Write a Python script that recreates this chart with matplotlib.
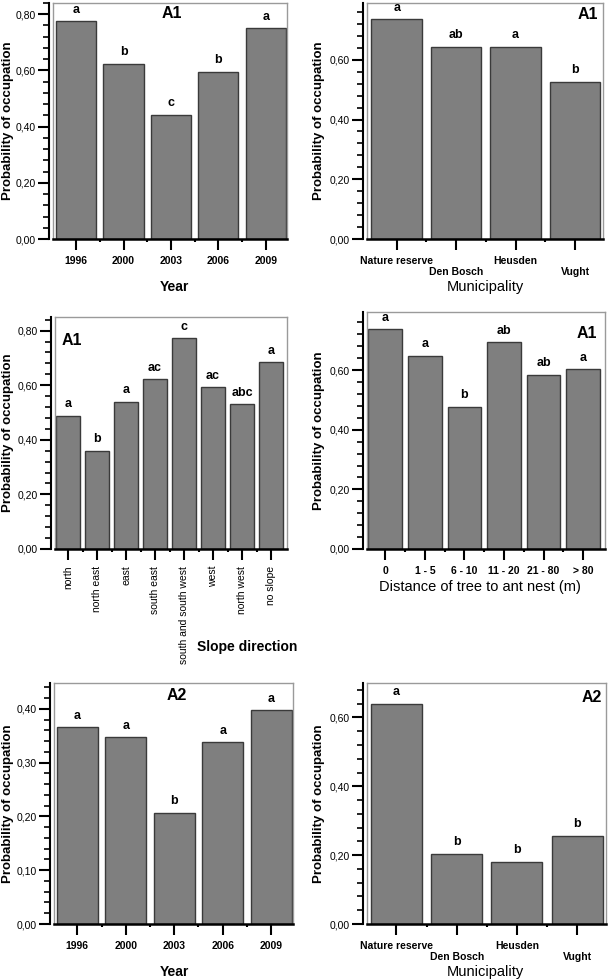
import matplotlib
matplotlib.use("Agg")
import matplotlib.pyplot as plt
from matplotlib.ticker import MultipleLocator, AutoMinorLocator, FuncFormatter

plt.rcParams["font.family"] = ["Liberation Sans", "DejaVu Sans"]

# --- data ---
YEARS = ["1996", "2000", "2003", "2006", "2009"]
YEAR_A1 = [0.775, 0.624, 0.443, 0.595, 0.750]
YEAR_A1_LET = ["a", "b", "c", "b", "a"]

MUNI = ["Nature reserve", "Den Bosch", "Heusden", "Vught"]
MUNI_A1 = [0.736, 0.644, 0.644, 0.527]
MUNI_A1_LET = ["a", "ab", "a", "b"]

SLOPE = ["north", "north east", "east", "south east", "south and south west",
         "west", "north west", "no slope"]
SLOPE_A1 = [0.489, 0.359, 0.539, 0.622, 0.772, 0.592, 0.530, 0.684]
SLOPE_A1_LET = ["a", "b", "a", "ac", "c", "ac", "abc", "a"]

DIST = ["0", "1 - 5", "6 - 10", "11 - 20", "21 - 80", "> 80"]
DIST_A1 = [0.737, 0.649, 0.478, 0.694, 0.585, 0.603]
DIST_A1_LET = ["a", "a", "b", "ab", "ab", "a"]

YEAR_A2 = [0.366, 0.347, 0.207, 0.338, 0.397]
YEAR_A2_LET = ["a", "a", "b", "a", "a"]

MUNI_A2 = [0.639, 0.204, 0.180, 0.257]
MUNI_A2_LET = ["a", "b", "b", "b"]

W, H = 610, 980
BAR = "#7f7f7f"
EDGE = "#3a3a3a"
FRAME = "#9a9a9a"

fig = plt.figure(figsize=(W / 100, H / 100), dpi=100)


def comma(v, pos):
    return f"{v:.2f}".replace(".", ",")


def panel(box, cats, vals, letters, ylim, major, tag, tag_xy, tag_ha,
          xlabel, xlabel_xy, xlabel_kw, ylabel_x, xlim, tick_kw, stagger=False):
    l, t, r, b = box
    ax = fig.add_axes([l / W, 1 - b / H, (r - l) / W, (b - t) / H])
    x = range(len(cats))
    ax.bar(x, vals, width=0.85, color=BAR, edgecolor=EDGE, linewidth=1.0, zorder=2)
    for i, (v, s) in enumerate(zip(vals, letters)):
        ax.annotate(s, (i, v), xytext=(0, 4), textcoords="offset points",
                    ha="center", va="bottom", fontsize=9, fontweight="bold")
    ax.set_xlim(*xlim)
    ax.set_ylim(0, ylim)
    ax.yaxis.set_major_locator(MultipleLocator(major))
    ax.yaxis.set_minor_locator(AutoMinorLocator(5))
    ax.yaxis.set_major_formatter(FuncFormatter(comma))
    ax.tick_params(axis="y", which="major", length=8, width=1.5, labelsize=7.5, pad=1.5)
    ax.tick_params(axis="y", which="minor", length=4, width=1.2)
    ax.set_xticks(list(x))
    labels = [("\n" + c) if (stagger and i % 2) else c for i, c in enumerate(cats)]
    ax.set_xticklabels(labels, **tick_kw)
    ax.set_xticks([i + 0.5 for i in range(len(cats) - 1)], minor=True)
    ax.tick_params(axis="x", which="major", length=8, width=1.5, pad=4)
    ax.tick_params(axis="x", which="minor", length=2, width=1.5)
    for side in ("top", "right"):
        ax.spines[side].set_color(FRAME)
        ax.spines[side].set_linewidth(1.0)
    ax.spines["left"].set_position(("outward", 3))
    ax.spines["left"].set_linewidth(1.5)
    ax.spines["bottom"].set_linewidth(1.8)
    ax.plot([0, 0], [0, 1], transform=ax.transAxes, color=FRAME, lw=1.0, clip_on=False)
    ax.text(tag_xy[0], tag_xy[1], tag, transform=ax.transAxes, ha=tag_ha, va="center",
            fontsize=11.5, fontweight="bold")
    fig.text(ylabel_x / W, 1 - (t + b) / 2 / H, "Probability of occupation", rotation=90,
             ha="center", va="center", fontsize=9.5, fontweight="bold")
    fig.text(xlabel_xy[0] / W, 1 - xlabel_xy[1] / H, xlabel, ha="center", va="center",
             **xlabel_kw)
    return ax


bold_ticks = dict(fontsize=7.5, fontweight="bold")
xl_bold = dict(fontsize=10, fontweight="bold")
xl_reg = dict(fontsize=10.5)

panel((53, 3, 287, 239), YEARS, YEAR_A1, YEAR_A1_LET, 0.84, 0.2, "A1", (0.51, 0.955), "center",
      "Year", (174, 287), xl_bold, 8, (-0.49, 4.45), bold_ticks)
panel((367, 3, 603, 239), MUNI, MUNI_A1, MUNI_A1_LET, 0.79, 0.2, "A1", (0.98, 0.95), "right",
      "Municipality", (485, 287), xl_reg, 319, (-0.5, 3.47), bold_ticks, stagger=True)
panel((55, 317, 287, 549), SLOPE, SLOPE_A1, SLOPE_A1_LET, 0.85, 0.2, "A1", (0.03, 0.90), "left",
      "Slope direction", (247, 647), xl_bold, 8, (-0.45, 7.55),
      dict(fontsize=7.5, rotation=90))
panel((367, 312, 605, 549), DIST, DIST_A1, DIST_A1_LET, 0.795, 0.2, "A1", (0.965, 0.91), "right",
      "Distance of tree to ant nest (m)", (480, 587), xl_reg, 319, (-0.46, 5.55), bold_ticks)
panel((54, 683, 293, 924), YEARS, YEAR_A2, YEAR_A2_LET, 0.448, 0.1, "A2", (0.515, 0.95), "center",
      "Year", (174, 972), xl_bold, 8, (-0.48, 4.45), bold_ticks)
panel((367, 683, 606, 924), MUNI, MUNI_A2, MUNI_A2_LET, 0.70, 0.2, "A2", (0.983, 0.94), "right",
      "Municipality", (485, 972), xl_reg, 319, (-0.49, 3.48), bold_ticks, stagger=True)

fig.savefig("out.png", dpi=100)
